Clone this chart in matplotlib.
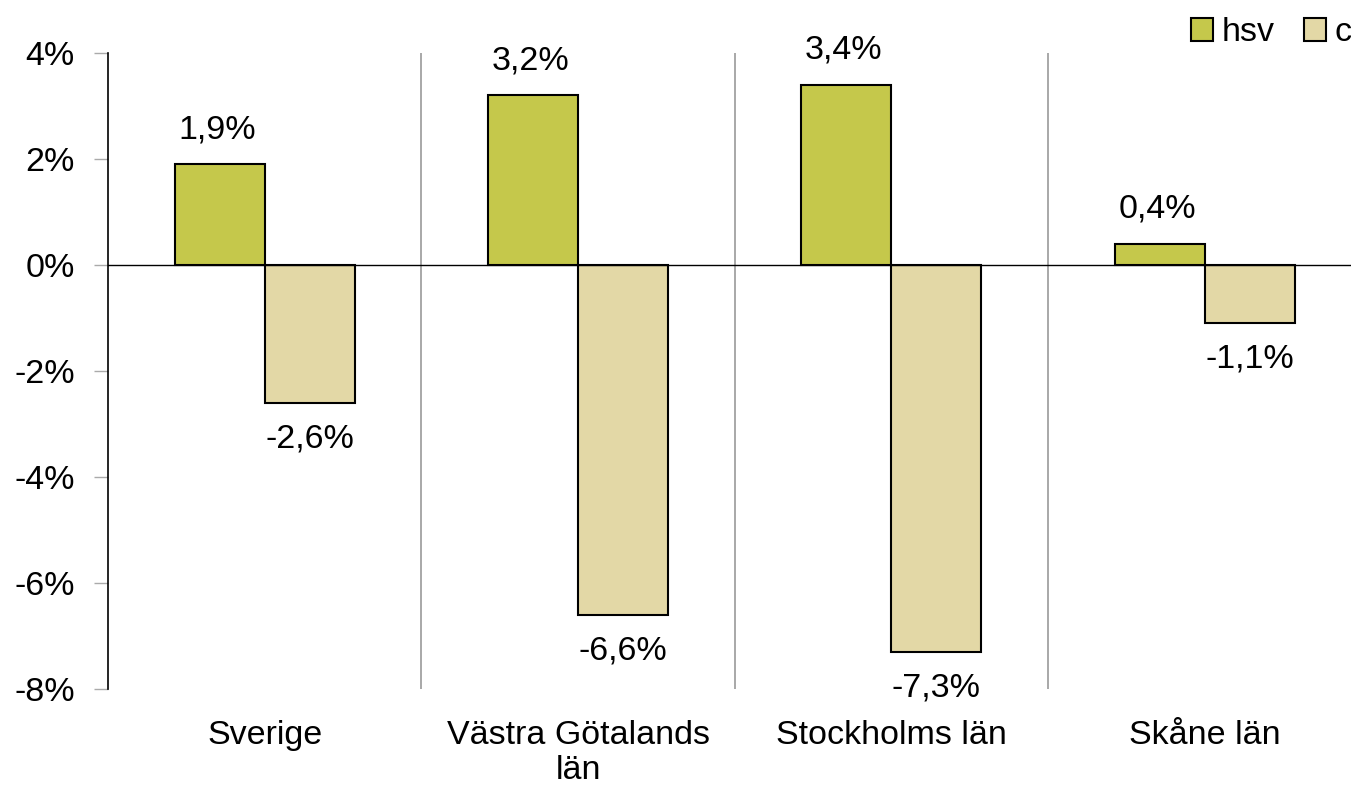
import numpy as np
import matplotlib.pyplot as plt
from matplotlib.patches import Patch

plt.rcParams['font.family'] = ['Liberation Sans', 'DejaVu Sans']

regioner = ['Sverige', 'Västra Götalands\nlän', 'Stockholms län', 'Skåne län']
hsv = [1.9, 3.2, 3.4, 0.4]
c = [-2.6, -6.6, -7.3, -1.1]
yticks = [-8, -6, -4, -2, 0, 2, 4]

green = '#c5c84b'
tan = '#e3d8a6'
fs = 24.5

fig = plt.figure(figsize=(13.51, 7.85), dpi=100)
ax = fig.add_axes([108/1351, 1 - 689/785, (1361.5 - 108)/1351, (689 - 53)/785])

x = np.arange(len(regioner)) + 0.5
w = 0.287

ax.bar(x - w/2, hsv, w, color=green, edgecolor='black', linewidth=1.5, zorder=3)
ax.bar(x + w/2, c, w, color=tan, edgecolor='black', linewidth=1.5, zorder=3)

def fmt(v):
    return f'{v:.1f}%'.replace('.', ',')

# etiketter ovanför / under staplarna
for xi, v in zip(x - w/2, hsv):
    ax.annotate(fmt(v), (xi, v), xytext=(-2, 25), textcoords='offset points',
                ha='center', va='center', fontsize=fs)
for xi, v in zip(x + w/2, c):
    ax.annotate(fmt(v), (xi, v), xytext=(0, -26), textcoords='offset points',
                ha='center', va='center', fontsize=fs)

ax.axhline(0, color='black', linewidth=1, zorder=4)
for sep in [1, 2, 3]:
    ax.plot([sep, sep], [-8, 4], color='#999999', linewidth=1.2, zorder=1)

ax.set_xlim(0, 4)
ax.set_ylim(-8, 4)
ax.set_yticks(yticks)
ax.set_yticklabels([f'{t}%' for t in yticks], fontsize=fs)
ax.set_xticks(x)
ax.set_xticklabels(regioner, fontsize=fs, linespacing=1.2)
ax.tick_params(axis='x', length=0, pad=22)
ax.tick_params(axis='y', length=10, width=1, color='#aaaaaa', pad=14)

for s in ['top', 'right', 'bottom']:
    ax.spines[s].set_visible(False)
ax.spines['left'].set_color('black')
ax.spines['left'].set_linewidth(1.2)

handles = [Patch(facecolor=green, edgecolor='black', linewidth=1.5),
           Patch(facecolor=tan, edgecolor='black', linewidth=1.5)]
fig.legend(handles, ['hsv', 'c'], loc='upper right', bbox_to_anchor=(1.023, 1.017),
           ncol=2, frameon=False, fontsize=fs, handlelength=0.65, handleheight=0.65,
           handletextpad=0.25, columnspacing=0.85)

fig.savefig('out.png', dpi=100)
